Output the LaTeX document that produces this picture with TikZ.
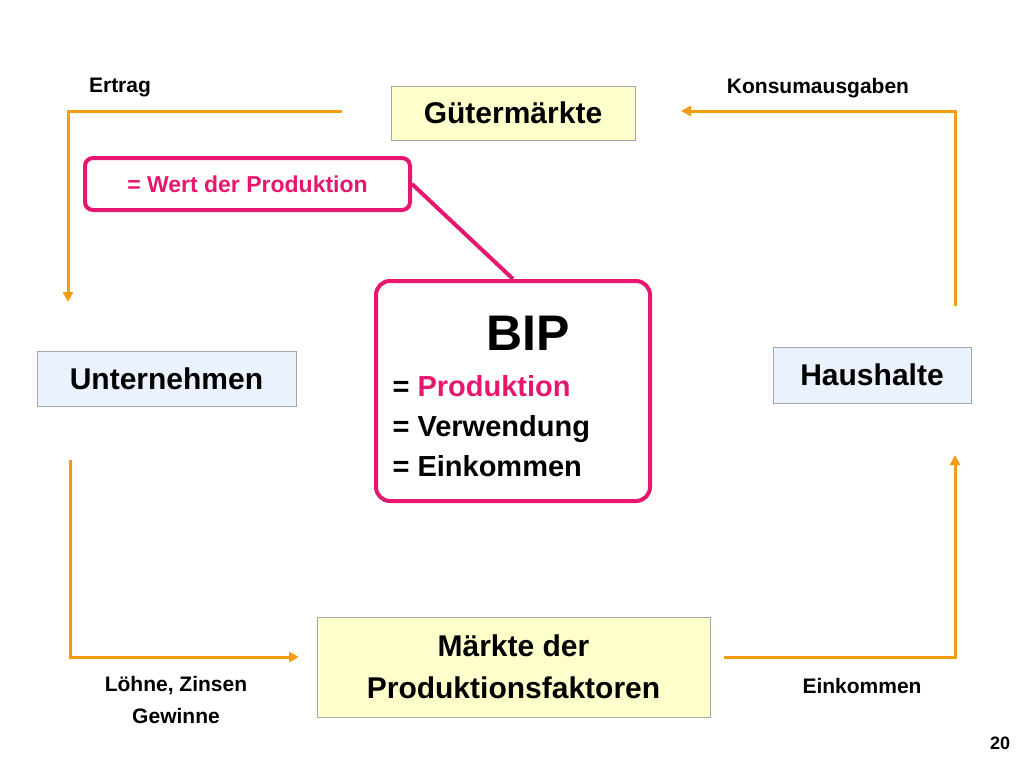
\documentclass[tikz,border=0pt]{standalone}
\usepackage{fontspec}
\setmainfont{Liberation Sans}
\usetikzlibrary{arrows.meta}
\definecolor{org}{HTML}{F39C12}
\definecolor{mag}{HTML}{E5176E}
\definecolor{ylw}{HTML}{FFFFCC}
\definecolor{blu}{HTML}{EAF2FD}
\begin{document}
\begin{tikzpicture}[x=1pt,y=-1pt,font=\bfseries,
 box/.style={draw=gray!70,inner sep=0pt,align=center},
 flow/.style={org,line width=3pt,-{Triangle[length=10pt,width=10pt]}},
 lbl/.style={font=\bfseries\fontsize{21}{24}\selectfont,align=center}]
\useasboundingbox (0,0) rectangle (1024,768);
\node[box,fill=ylw,minimum width=244,minimum height=54,font=\bfseries\fontsize{30}{34}\selectfont] (gm) at (513,113) {Gütermärkte};
\node[box,fill=blu,minimum width=259,minimum height=55,font=\bfseries\fontsize{30}{34}\selectfont] (un) at (166.5,378.5) {Unternehmen};
\node[box,fill=blu,minimum width=198,minimum height=56,font=\bfseries\fontsize{30}{34}\selectfont] (hh) at (872,375) {Haushalte};
\node[box,fill=ylw,minimum width=393,minimum height=100,font=\bfseries\fontsize{30}{42}\selectfont] (mp) at (513.5,667) {Märkte der\\ Produktionsfaktoren};
\node[draw=mag,line width=4pt,rounded corners=14pt,minimum width=274,minimum height=220] (bip) at (513,391) {};
\node[font=\bfseries\fontsize{50}{56}\selectfont] (bipt) at (528,333) {BIP};
\node[anchor=west,font=\bfseries\fontsize{29}{40}\selectfont,align=left] (bipl) at (389,426) {= \textcolor{mag}{Produktion}\\= Verwendung\\= Einkommen};
\node[draw=mag,line width=4pt,rounded corners=8pt,minimum width=325,minimum height=52,text=mag,font=\bfseries\fontsize{23}{26}\selectfont] (wert) at (247.5,184) {= Wert der Produktion};
\draw[mag,line width=4pt] (wert.east) -- (bip.north);
\coordinate (a1) at (342,111); \coordinate (a2) at (68,111); \coordinate (a3) at (68,302);
\draw[flow] (a1) -- (a2) -- (a3);
\coordinate (b1) at (955,306); \coordinate (b2) at (955,111); \coordinate (b3) at (681,111);
\draw[flow] (b1) -- (b2) -- (b3);
\coordinate (c1) at (70,460); \coordinate (c2) at (70,657); \coordinate (c3) at (299,657);
\draw[flow] (c1) -- (c2) -- (c3);
\coordinate (d1) at (724,657); \coordinate (d2) at (955,657); \coordinate (d3) at (955,455);
\draw[flow] (d1) -- (d2) -- (d3);
\node[lbl] (l1) at (120,88) {Ertrag};
\node[lbl] (l2) at (818,88) {Konsumausgaben};
\node[lbl,font=\bfseries\fontsize{21}{32}\selectfont] (l3) at (176,700) {Löhne, Zinsen\\Gewinne};
\node[lbl] (l4) at (862,686) {Einkommen};
\node[lbl,font=\bfseries\fontsize{18}{20}\selectfont] (l5) at (1000,743) {20};
\end{tikzpicture}
\end{document}
